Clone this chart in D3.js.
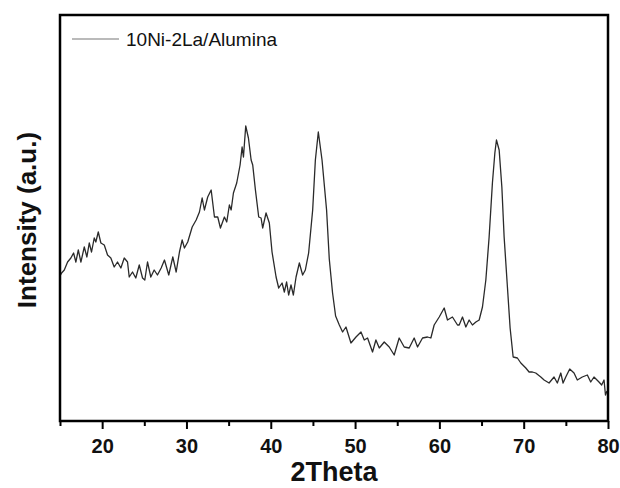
<!DOCTYPE html>
<html>
<head>
<meta charset="utf-8">
<script src="https://cdn.jsdelivr.net/npm/d3@7"></script>
<style>
  body { margin: 0; background: #fff; }
  text { font-family: "Liberation Sans", Arial, sans-serif; }
</style>
</head>
<body>
<svg id="chart"></svg>
<script>
//SET UP THE CANVAS
var w = 620;
var h = 488;
var margin = {top: 15, right: 12, bottom: 67, left: 60};

var svg = d3.select("#chart")
     .attr("width", w)
     .attr("height", h)
     .style("background-color", "white");

//DATA
var seriesName = "10Ni-2La/Alumina";
var twoTheta = [
  15.0, 15.19, 15.51, 15.90, 16.29, 16.61, 16.88, 17.17, 17.48, 17.88, 18.19, 18.47, 18.74, 19.06, 19.25, 19.54,
  19.85, 20.25, 20.64, 21.03, 21.43, 21.82, 22.22, 22.62, 23.01, 23.21, 23.60, 23.99, 24.40, 24.79, 25.06, 25.38,
  25.77, 26.17, 26.56, 27.00, 27.39, 27.90, 28.38, 28.78, 29.17, 29.49, 29.76, 30.15, 30.68, 31.15, 31.54, 31.86,
  32.13, 32.52, 32.93, 33.32, 33.71, 34.03, 34.50, 34.78, 35.09, 35.30, 35.57, 35.96, 36.36, 36.60, 36.76, 37.03,
  37.35, 37.67, 37.86, 38.18, 38.57, 38.85, 39.04, 39.44, 39.83, 40.15, 40.63, 40.94, 41.34, 41.61, 41.88, 42.12,
  42.40, 42.68, 43.00, 43.39, 43.78, 44.10, 44.49, 44.97, 45.29, 45.64, 46.08, 46.62, 46.94, 47.33, 47.69, 48.13,
  48.52, 48.92, 49.51, 50.11, 50.70, 51.09, 51.48, 52.07, 52.47, 52.87, 53.46, 54.05, 54.64, 55.23, 55.83, 56.42,
  57.01, 57.41, 58.00, 58.59, 58.99, 59.38, 59.98, 60.57, 60.96, 61.55, 62.15, 62.35, 62.74, 63.14, 63.53, 63.92,
  64.33, 64.72, 65.11, 65.51, 65.90, 66.29, 66.58, 66.77, 67.09, 67.41, 67.68, 68.07, 68.39, 68.75, 69.25, 69.66,
  70.25, 70.64, 71.03, 71.43, 72.03, 72.42, 73.01, 73.60, 73.99, 74.40, 74.67, 74.99, 75.46, 75.97, 76.36, 76.95,
  77.55, 77.95, 78.34, 78.93, 79.25, 79.53, 79.70, 79.88
];
var intensity = [
  145, 148, 151, 159, 163, 168, 159, 171, 159, 174, 164, 178, 169, 183, 179, 189,
  178, 176, 166, 163, 154, 159, 153, 163, 159, 144, 149, 143, 156, 143, 141, 159,
  144, 151, 146, 153, 161, 146, 164, 149, 169, 181, 173, 179, 194, 201, 209, 223,
  211, 224, 231, 204, 204, 193, 204, 199, 216, 211, 228, 238, 256, 274, 264, 295,
  283, 261, 256, 231, 204, 203, 193, 208, 198, 169, 144, 133, 138, 129, 139, 126,
  136, 126, 144, 158, 146, 151, 168, 211, 261, 289, 261, 211, 162, 128, 105, 96,
  89, 94, 78, 84, 89, 81, 83, 69, 81, 73, 79, 74, 66, 83, 74, 73,
  83, 74, 83, 84, 83, 96, 104, 113, 101, 104, 96, 96, 104, 94, 101, 96,
  99, 101, 114, 141, 184, 238, 268, 281, 271, 234, 184, 134, 93, 64, 63, 58,
  53, 49, 49, 48, 44, 41, 38, 44, 38, 48, 38, 44, 52, 48, 41, 44,
  46, 39, 44, 39, 36, 41, 26, 30
];
var xDomain = [15, 80];
var yDomain = [0, 406];
var majorTicks = [20, 30, 40, 50, 60, 70, 80];
var minorTicks = [15, 25, 35, 45, 55, 65, 75];
var xTitle = "2Theta";
var yTitle = "Intensity (a.u.)";

var pattern = twoTheta.map(function (t, i) {
     return {t: t, v: intensity[i]};
});

//SCALES
var xScale = d3.scaleLinear()
     .domain(xDomain)
     .range([margin.left, w - margin.right]);
var yScale = d3.scaleLinear()
     .domain(yDomain)
     .range([h - margin.bottom, margin.top]);

var bottom = h - margin.bottom;

////THE PATTERN
var lineMaker = d3.line()
     .x(function (d) { return xScale(d.t); })
     .y(function (d) { return yScale(d.v); });

svg.append("path")
     .attr("d", lineMaker(pattern))
     .attr("fill", "none")
     .attr("stroke", "#2a2a2a")
     .attr("stroke-width", 1.3)
     .attr("stroke-linejoin", "round");

////AXES
var minorAxis = d3.axisBottom(xScale)
     .tickValues(minorTicks)
     .tickSize(5)
     .tickFormat("");
svg.append("g")
     .attr("transform", "translate(0," + bottom + ")")
     .call(minorAxis)
     .call(function (g) { g.select(".domain").remove(); })
     .selectAll("line")
     .attr("stroke", "#000")
     .attr("stroke-width", 2);

var majorAxis = d3.axisBottom(xScale)
     .tickValues(majorTicks)
     .tickSize(8)
     .tickPadding(10)
     .tickFormat(d3.format("d"));
var gx = svg.append("g")
     .attr("transform", "translate(0," + bottom + ")")
     .call(majorAxis);
gx.select(".domain").remove();
gx.selectAll("line")
     .attr("stroke", "#000")
     .attr("stroke-width", 2);
gx.selectAll("text")
     .attr("fill", "#111")
     .style("font-size", "20px")
     .style("font-weight", "bold")
     .style("font-family", "'Liberation Sans', Arial, sans-serif");

//frame
svg.append("rect")
     .attr("x", xScale(xDomain[0]))
     .attr("y", yScale(yDomain[1]))
     .attr("width", xScale(xDomain[1]) - xScale(xDomain[0]))
     .attr("height", yScale(yDomain[0]) - yScale(yDomain[1]))
     .attr("fill", "none")
     .attr("stroke", "#000")
     .attr("stroke-width", 2.5);

////TITLES
svg.append("text")
     .attr("x", (xScale(xDomain[0]) + xScale(xDomain[1])) / 2)
     .attr("y", 481)
     .attr("text-anchor", "middle")
     .style("font-size", "27px")
     .style("font-weight", "bold")
     .attr("fill", "#111")
     .text(xTitle);

svg.append("text")
     .attr("transform", "translate(36," + 220 + ") rotate(-90)")
     .attr("text-anchor", "middle")
     .style("font-size", "26px")
     .style("font-weight", "bold")
     .attr("fill", "#111")
     .text(yTitle);

////LEGEND
var legend = svg.append("g")
     .attr("transform", "translate(72,39)");
legend.append("line")
     .attr("x1", 0)
     .attr("x2", 47)
     .attr("stroke", "#777")
     .attr("stroke-width", 1.2);
legend.append("text")
     .attr("x", 54)
     .attr("y", 7)
     .style("font-size", "19px")
     .attr("fill", "#111")
     .text(seriesName);
</script>
</body>
</html>
